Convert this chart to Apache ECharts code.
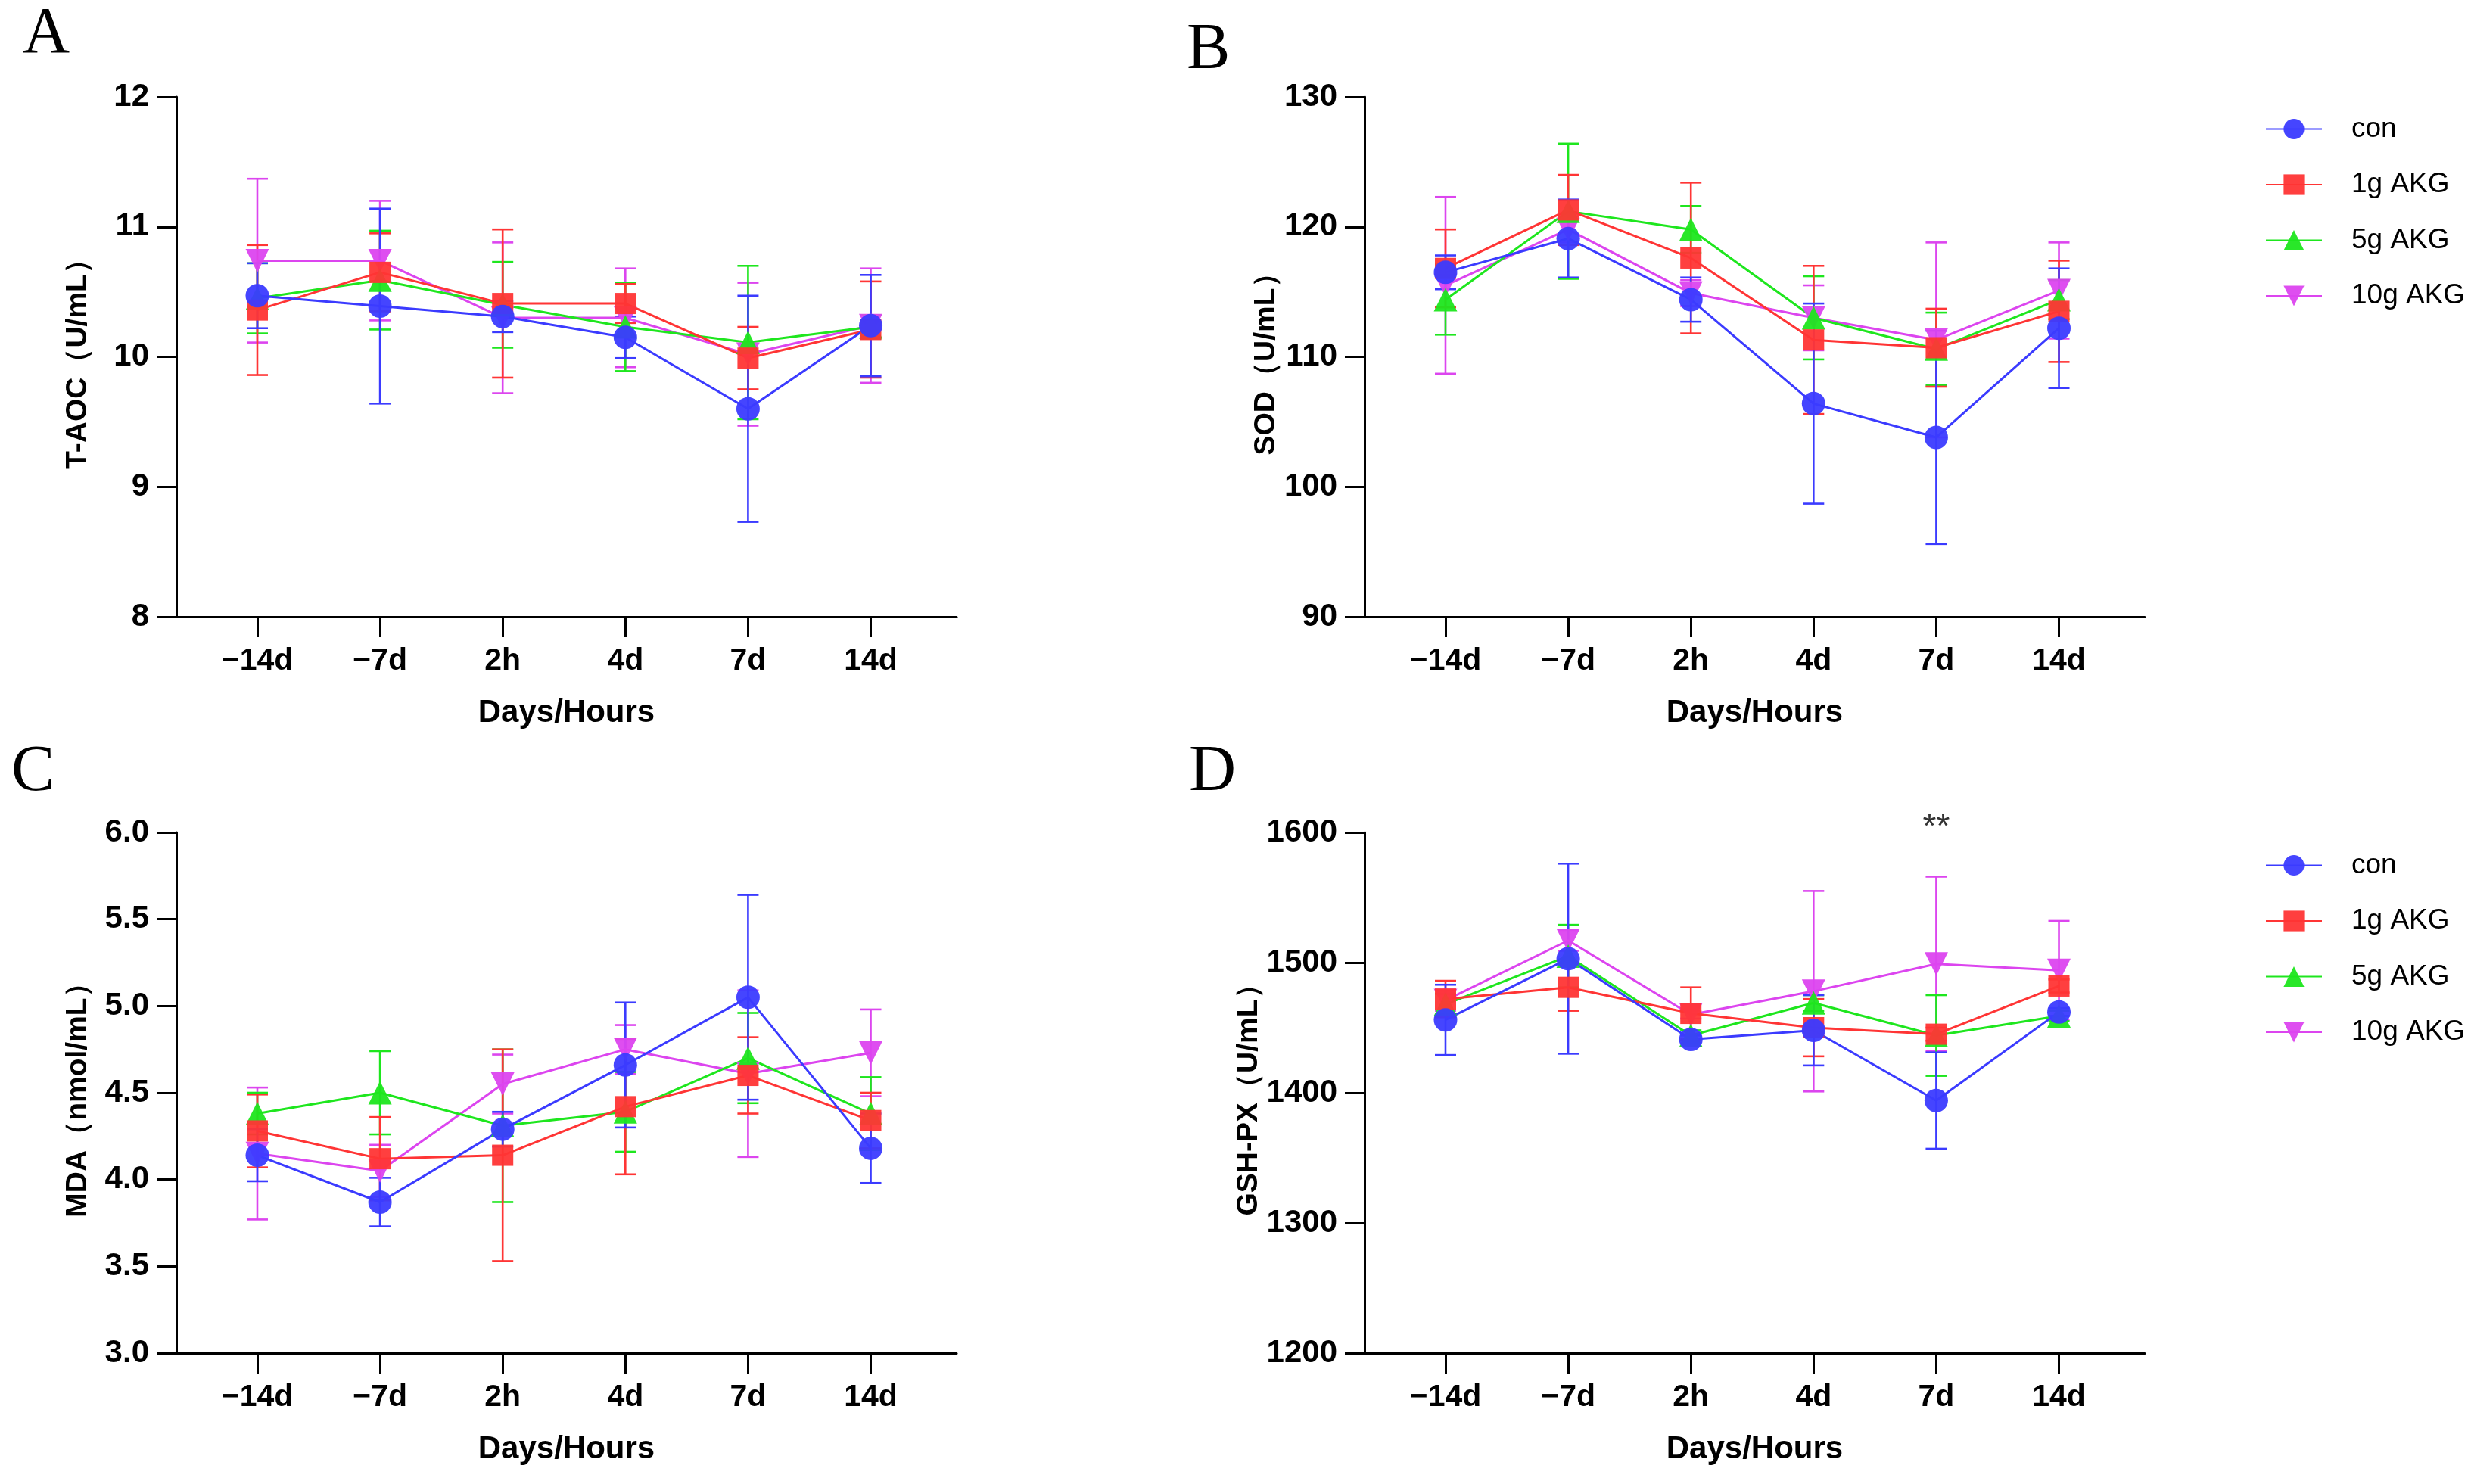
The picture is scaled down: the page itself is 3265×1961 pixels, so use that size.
<!DOCTYPE html>
<html>
<head>
<meta charset="utf-8">
<script src="https://cdn.jsdelivr.net/npm/echarts@6.0.0/dist/echarts.min.js"></script>
<style>
html, body { margin: 0; padding: 0; background: #fff; }
#main { width: 3265px; height: 1961px; }
</style>
</head>
<body>
<div id="main"></div>
<script>
var timePoints = ['\u221214d', '\u22127d', '2h', '4d', '7d', '14d'];
var groupNames = ['con', '1g AKG', '5g AKG', '10g AKG'];

// A: T-AOC (U/mL), mean and SD
var taocCon   = [10.47, 10.39, 10.31, 10.15, 9.60, 10.24];
var taocConSd = [0.25, 0.75, 0.12, 0.16, 0.87, 0.39];
var taoc1g    = [10.36, 10.65, 10.41, 10.41, 9.99, 10.21];
var taoc1gSd  = [0.50, 0.30, 0.57, 0.15, 0.24, 0.37];
var taoc5g    = [10.45, 10.59, 10.40, 10.23, 10.11, 10.23];
var taoc5gSd  = [0.27, 0.38, 0.33, 0.34, 0.59, 0.09];
var taoc10g   = [10.74, 10.74, 10.30, 10.30, 10.02, 10.24];
var taoc10gSd = [0.63, 0.46, 0.58, 0.38, 0.55, 0.44];

// B: SOD (U/mL)
var sodCon   = [116.5, 119.1, 114.4, 106.4, 103.8, 112.2];
var sodConSd = [1.3, 3.0, 1.7, 7.7, 8.2, 4.6];
var sod1g    = [116.8, 121.3, 117.6, 111.3, 110.7, 113.5];
var sod1gSd  = [3.0, 2.7, 5.8, 5.7, 3.0, 3.9];
var sod5g    = [114.4, 121.2, 119.8, 113.0, 110.6, 114.4];
var sod5gSd  = [2.7, 5.2, 1.8, 3.2, 2.8, 1.5];
var sod10g   = [115.5, 119.8, 114.9, 113.0, 111.3, 115.1];
var sod10gSd = [6.8, 1.0, 1.0, 2.5, 7.5, 3.7];

// C: MDA (nmol/mL)
var mdaCon   = [4.14, 3.87, 4.29, 4.66, 5.05, 4.18];
var mdaConSd = [0.15, 0.14, 0.10, 0.36, 0.59, 0.20];
var mda1g    = [4.28, 4.12, 4.14, 4.42, 4.60, 4.34];
var mda1gSd  = [0.21, 0.24, 0.61, 0.39, 0.22, 0.16];
var mda5g    = [4.38, 4.50, 4.31, 4.39, 4.70, 4.38];
var mda5gSd  = [0.12, 0.24, 0.44, 0.23, 0.26, 0.21];
var mda10g   = [4.15, 4.05, 4.55, 4.75, 4.61, 4.73];
var mda10gSd = [0.38, 0.15, 0.17, 0.14, 0.48, 0.25];

// D: GSH-PX (U/mL)
var gshCon   = [1456, 1503, 1441, 1448, 1394, 1462];
var gshConSd = [27, 73, 3, 27, 37, 3];
var gsh1g    = [1472, 1481, 1461, 1450, 1445, 1482];
var gsh1gSd  = [14, 18, 20, 22, 5, 5];
var gsh5g    = [1468, 1505, 1444, 1469, 1444, 1459];
var gsh5gSd  = [8, 24, 4, 6, 31, 4];
var gsh10g   = [1471, 1517, 1460, 1478, 1499, 1494];
var gsh10gSd = [8, 8, 3, 77, 67, 38];

// significance mark in D
var starLabel = '**';
var starAt = [4, 1600];

var panels = [
    {letter: 'A', title: 'T-AOC\uff08U/mL\uff09', min: 8, max: 12, step: 1, digits: 0,
     means: [taocCon, taoc1g, taoc5g, taoc10g], sds: [taocConSd, taoc1gSd, taoc5gSd, taoc10gSd]},
    {letter: 'B', title: 'SOD\uff08U/mL\uff09', min: 90, max: 130, step: 10, digits: 0,
     means: [sodCon, sod1g, sod5g, sod10g], sds: [sodConSd, sod1gSd, sod5gSd, sod10gSd]},
    {letter: 'C', title: 'MDA\uff08nmol/mL\uff09', min: 3, max: 6, step: 0.5, digits: 1,
     means: [mdaCon, mda1g, mda5g, mda10g], sds: [mdaConSd, mda1gSd, mda5gSd, mda10gSd]},
    {letter: 'D', title: 'GSH-PX\uff08U/mL\uff09', min: 1200, max: 1600, step: 100, digits: 0,
     means: [gshCon, gsh1g, gsh5g, gsh10g], sds: [gshConSd, gsh1gSd, gsh5gSd, gsh10gSd]}
];

var colors = ['#3b3bff', '#ff3535', '#1ee61e', '#dc45ef'];
var symbols = ['circle', 'rect', 'triangle', 'triangle'];
var symbolRot = [0, 0, 0, 180];
var symbolSizes = [31, 28, 31, 31];

var gridPos = [
    {left: 233, top: 128, width: 1031, height: 687},
    {left: 1803, top: 128, width: 1031, height: 687},
    {left: 233, top: 1100, width: 1031, height: 688},
    {left: 1803, top: 1100, width: 1031, height: 688}
];
var letterPos = [[62, 47], [1600, 68], [47, 1022], [1603, 1022]];

var sansFont = '"Liberation Sans", Arial, Helvetica, sans-serif';
var ticks = [0, 1, 2, 3, 4, 5];

var grids = [], xAxes = [], yAxes = [], series = [], graphics = [];

panels.forEach(function (p, k) {
    grids.push(gridPos[k]);
    xAxes.push({
        type: 'value', gridIndex: k, min: -0.66, max: 5.7,
        name: 'Days/Hours', nameLocation: 'middle', nameGap: 106,
        nameTextStyle: {fontFamily: sansFont, fontWeight: 'bold', fontSize: 42, color: '#000'},
        splitLine: {show: false},
        axisLine: {onZero: false, lineStyle: {color: '#000', width: 3}},
        axisTick: {customValues: ticks, length: 27, lineStyle: {color: '#000', width: 3}},
        axisLabel: {
            customValues: ticks, margin: 38,
            fontFamily: sansFont, fontWeight: 'bold', fontSize: 41, color: '#000',
            formatter: function (v) { return timePoints[Math.round(v)]; }
        }
    });
    yAxes.push({
        type: 'value', gridIndex: k, min: p.min, max: p.max, interval: p.step,
        name: p.title, nameLocation: 'middle', nameGap: 110,
        nameTextStyle: {fontFamily: sansFont, fontWeight: 'bold', fontSize: 39, color: '#000'},
        splitLine: {show: false},
        axisLine: {show: true, onZero: false, lineStyle: {color: '#000', width: 3}},
        axisTick: {show: true, length: 26, lineStyle: {color: '#000', width: 3}},
        axisLabel: {
            margin: 36, fontFamily: sansFont, fontWeight: 'bold', fontSize: 42, color: '#000',
            formatter: function (v) { return v.toFixed(p.digits); }
        }
    });

    // error bars first, under the lines
    for (var g = 3; g >= 0; g--) {
        (function (g) {
            var color = colors[g];
            series.push({
                type: 'custom', xAxisIndex: k, yAxisIndex: k, silent: true, z: 2,
                data: p.means[g].map(function (m, i) {
                    return [i, m - p.sds[g][i], m + p.sds[g][i]];
                }),
                encode: {x: 0, y: [1, 2]},
                renderItem: function (params, api) {
                    var lo = api.coord([api.value(0), api.value(1)]);
                    var hi = api.coord([api.value(0), api.value(2)]);
                    var w = 14;
                    var st = {stroke: color, lineWidth: 2.6};
                    return {type: 'group', children: [
                        {type: 'line', shape: {x1: lo[0], y1: lo[1], x2: hi[0], y2: hi[1]}, style: st},
                        {type: 'line', shape: {x1: lo[0] - w, y1: lo[1], x2: lo[0] + w, y2: lo[1]}, style: st},
                        {type: 'line', shape: {x1: hi[0] - w, y1: hi[1], x2: hi[0] + w, y2: hi[1]}, style: st}
                    ]};
                }
            });
        })(g);
    }
    for (var g2 = 3; g2 >= 0; g2--) {
        series.push({
            type: 'line', name: groupNames[g2], xAxisIndex: k, yAxisIndex: k, z: 3,
            data: p.means[g2].map(function (m, i) { return [i, m]; }),
            symbol: symbols[g2], symbolRotate: symbolRot[g2], symbolSize: symbolSizes[g2],
            showAllSymbol: true,
            lineStyle: {color: colors[g2], width: 3},
            itemStyle: {color: colors[g2], opacity: 0.95},
            emphasis: {disabled: true}
        });
    }

    graphics.push({
        type: 'text', left: letterPos[k][0] - 32, top: letterPos[k][1] - 44,
        style: {text: p.letter, font: '86px "Liberation Serif", "Times New Roman", serif', fill: '#000'}
    });
});

series.push({
    type: 'scatter', xAxisIndex: 3, yAxisIndex: 3, silent: true, clip: false,
    data: [starAt], symbolSize: 1, itemStyle: {color: 'rgba(0,0,0,0)'},
    label: {show: true, position: 'inside', offset: [0, -6], formatter: starLabel,
            fontFamily: sansFont, fontSize: 46, color: '#000'}
});

function legendAt(top) {
    return {
        data: groupNames, orient: 'vertical', left: 2988, top: top,
        itemWidth: 74, itemHeight: 34, itemGap: 36.5,
        textStyle: {fontFamily: sansFont, fontSize: 37, color: '#000', padding: [0, 0, 0, 34]},
        selectedMode: false
    };
}

var chart = echarts.init(document.getElementById('main'), null, {renderer: 'canvas'});
chart.setOption({
    backgroundColor: '#fff',
    animation: false,
    grid: grids,
    xAxis: xAxes,
    yAxis: yAxes,
    legend: [legendAt(147), legendAt(1120)],
    graphic: graphics,
    series: series
});
</script>
</body>
</html>
